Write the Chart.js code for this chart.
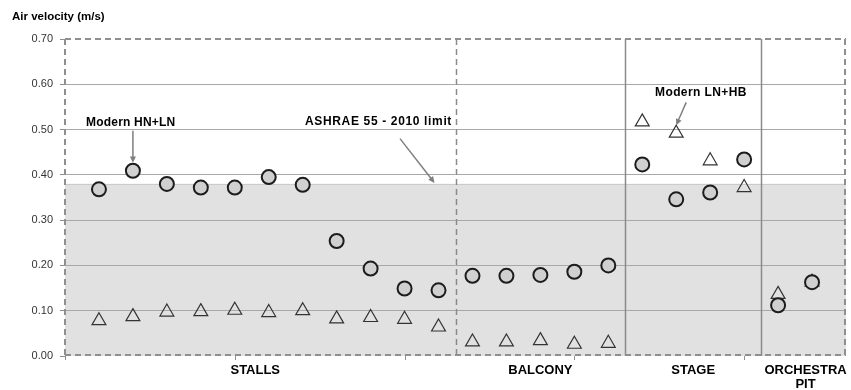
<!DOCTYPE html>
<html><head><meta charset="utf-8">
<script src="https://cdn.jsdelivr.net/npm/chart.js@4"></script>
<style>html,body{margin:0;padding:0;background:#fff}#wrap{width:851px;height:390px;position:relative}</style>
</head><body><div id="wrap"><canvas id="c" width="851" height="390"></canvas></div>
<script>
// Category groups (x positions are index slots; group gaps handled by slot numbers)
const groups = ["STALLS", "BALCONY", "STAGE", "ORCHESTRA PIT"];
const groupSizes = [11, 5, 4, 2];
// Series: circles (Modern HN+LN) and triangles (Modern LN+HB)
const circleValues = [0.368, 0.409, 0.380, 0.372, 0.372, 0.395, 0.378, 0.254, 0.193, 0.149, 0.145,
                      0.177, 0.177, 0.179, 0.186, 0.200,
                      0.423, 0.346, 0.361, 0.434,
                      0.112, 0.163];
const triangleValues = [0.078, 0.087, 0.097, 0.098, 0.101, 0.096, 0.100, 0.082, 0.085, 0.081, 0.064,
                        0.031, 0.031, 0.034, 0.026, 0.028,
                        0.517, 0.492, 0.431, 0.372,
                        0.136, 0.163];
const yTicks = [0, 0.1, 0.2, 0.3, 0.4, 0.5, 0.6, 0.7];
const ashraeLimit = 0.38;
const yTitle = "Air velocity (m/s)";
const annotations = [
  {text: "Modern HN+LN", at: 1},
  {text: "ASHRAE 55 - 2010 limit"},
  {text: "Modern LN+HB", at: 17}
];

const circlePts = circleValues.map((v, i) => ({x: i, y: v}));
const triPts = triangleValues.map((v, i) => ({x: i, y: v}));

const bounds = [];
let acc = 0;
groupSizes.forEach(s => { acc += s; bounds.push(acc - 0.5); });

const FONT = "Liberation Sans, Arial, sans-serif";

function arrow(ctx, x1, y1, x2, y2) {
  ctx.save();
  ctx.strokeStyle = "#7f7f7f"; ctx.fillStyle = "#7f7f7f"; ctx.lineWidth = 1.5;
  const ang = Math.atan2(y2 - y1, x2 - x1);
  const hl = 7;
  ctx.beginPath(); ctx.moveTo(x1, y1);
  ctx.lineTo(x2 - Math.cos(ang) * hl * 0.8, y2 - Math.sin(ang) * hl * 0.8); ctx.stroke();
  ctx.beginPath();
  ctx.moveTo(x2, y2);
  ctx.lineTo(x2 - hl * Math.cos(ang - 0.45), y2 - hl * Math.sin(ang - 0.45));
  ctx.lineTo(x2 - hl * Math.cos(ang + 0.45), y2 - hl * Math.sin(ang + 0.45));
  ctx.closePath(); ctx.fill();
  ctx.restore();
}

const deco = {
  id: "deco",
  beforeDraw(chart) {
    const {ctx, chartArea: a, scales: {y}} = chart;
    ctx.save();
    ctx.fillStyle = "#e1e1e1";
    const yl = y.getPixelForValue(ashraeLimit);
    ctx.fillRect(a.left, yl, a.right - a.left, a.bottom - yl);
    ctx.strokeStyle = "#c8c8c8"; ctx.lineWidth = 1;
    ctx.beginPath(); ctx.moveTo(a.left, yl + 0.5); ctx.lineTo(a.right, yl + 0.5); ctx.stroke();
    ctx.restore();
  },
  beforeDatasetsDraw(chart) {
    const {ctx, chartArea: a, scales: {x, y}} = chart;
    ctx.save();
    bounds.slice(0, 3).forEach((b, i) => {
      const px = Math.round(x.getPixelForValue(b)) + 0.5;
      ctx.strokeStyle = "#8a8a8a"; ctx.lineWidth = 1.5;
      ctx.setLineDash(i === 0 ? [6, 4] : []);
      ctx.beginPath(); ctx.moveTo(px, a.top); ctx.lineTo(px, a.bottom); ctx.stroke();
    });
    ctx.strokeStyle = "#8f8f8f"; ctx.lineWidth = 2; ctx.setLineDash([6, 4]);
    ctx.beginPath();
    ctx.moveTo(a.left, a.top); ctx.lineTo(a.right, a.top);
    ctx.moveTo(a.left, a.bottom - 1); ctx.lineTo(a.right, a.bottom - 1);
    ctx.moveTo(a.left, a.top); ctx.lineTo(a.left, a.bottom);
    ctx.moveTo(a.right - 1, a.top); ctx.lineTo(a.right - 1, a.bottom);
    ctx.stroke();
    ctx.setLineDash([]);
    ctx.strokeStyle = "#8f8f8f"; ctx.lineWidth = 1;
    for (let t = -1; t <= 22; t += 5) {
      const px = Math.round(x.getPixelForValue(t)) + 0.5;
      ctx.beginPath(); ctx.moveTo(px, a.bottom); ctx.lineTo(px, a.bottom + 4); ctx.stroke();
    }
    // group labels centred on each region
    ctx.fillStyle = "#000"; ctx.font = "bold 13px " + FONT; ctx.textAlign = "center"; ctx.textBaseline = "middle";
    const edges = [-1, ...bounds.slice(0, 3), 22];
    groups.forEach((g, i) => {
      let px = (x.getPixelForValue(edges[i]) + x.getPixelForValue(edges[i + 1])) / 2;
      if (i === 0) px -= 5;
      if (i === 3) px += 2;
      const words = g === "ORCHESTRA PIT" ? ["ORCHESTRA", "PIT"] : [g];
      words.forEach((w, k) => ctx.fillText(w, px, a.bottom + 14 + k * 14));
    });
    ctx.textAlign = "left"; ctx.font = "bold 11.5px " + FONT;
    ctx.fillText(yTitle, 12, 17);
    ctx.font = "bold 12px " + FONT; ctx.fillStyle = "#000"; ctx.textAlign = "left";
    ctx.letterSpacing = "0.2px";
    const p1x = x.getPixelForValue(annotations[0].at), p1y = y.getPixelForValue(circleValues[1]);
    ctx.fillText(annotations[0].text, 86, y.getPixelForValue(0.5) - 7);
    arrow(ctx, p1x, p1y - 40, p1x, p1y - 8);
    ctx.letterSpacing = "0.65px";
    ctx.fillText(annotations[1].text, 305, y.getPixelForValue(0.5) - 8);
    arrow(ctx, 400, y.getPixelForValue(0.48), x.getPixelForValue(10) - 4, y.getPixelForValue(ashraeLimit) - 1);
    ctx.letterSpacing = "0.4px";
    ctx.fillText(annotations[2].text, 655, y.getPixelForValue(0.6) + 8);
    const p3x = x.getPixelForValue(annotations[2].at);
    arrow(ctx, p3x + 10, y.getPixelForValue(0.56), p3x, y.getPixelForValue(triangleValues[17]) - 8);
    ctx.letterSpacing = "0px";
    ctx.restore();
  }
};

new Chart(document.getElementById("c"), {
  type: "scatter",
  data: {
    datasets: [
      {label: "circles", data: circlePts, pointStyle: "circle", pointRadius: 7, pointHoverRadius: 7,
       backgroundColor: "#d0d0d0", borderColor: "#1c1c1c", borderWidth: 2},
      {label: "triangles", data: triPts, pointStyle: "triangle", pointRadius: 8, pointHoverRadius: 8,
       backgroundColor: "rgba(0,0,0,0)", borderColor: "#333", borderWidth: 1.2}
    ]
  },
  options: {
    responsive: false, animation: false, events: [],
    layout: {autoPadding: false, padding: {left: 0, right: 5, top: 39, bottom: 34}},
    plugins: {legend: {display: false}, tooltip: {enabled: false}},
    scales: {
      x: {type: "linear", min: -1, max: 22, display: false},
      y: {min: 0, max: 0.7,
          afterBuildTicks(s) { s.ticks = yTicks.map(v => ({value: v})); },
          afterFit(s) { s.width = 65; },
          border: {display: false},
          grid: {color: c => (c.tick && (c.tick.value === 0 || Math.abs(c.tick.value - 0.7) < 1e-6)) ? "rgba(0,0,0,0)" : "#a8a8a8",
                 tickColor: "#8f8f8f", tickLength: 5, lineWidth: 1},
          ticks: {color: "#333", font: {size: 11, family: FONT}, padding: 7,
                  callback: v => v.toFixed(2)}}
    }
  },
  plugins: [deco]
});
</script></body></html>
